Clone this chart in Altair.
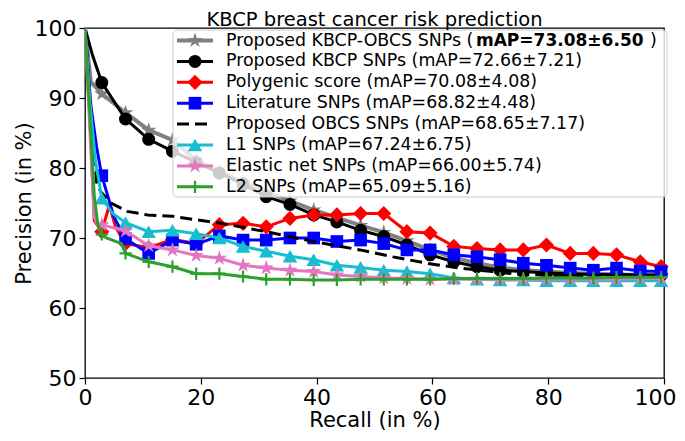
import altair as alt
import pandas as pd

# ---------------- data ----------------
recall_grid = [2.9, 7.0, 11.0, 15.1, 19.2, 23.2, 27.3, 31.3, 35.4, 39.5, 43.5, 47.6, 51.6,
               55.6, 59.6, 63.7, 67.7, 71.7, 75.7, 79.7, 83.8, 87.8, 91.8, 95.9, 99.5]

series_names = ["Proposed KBCP-OBCS SNPs", "Proposed KBCP SNPs", "Polygenic score",
                "Literature SNPs", "Proposed OBCS SNPs", "L1 SNPs", "Elastic net SNPs", "L2 SNPs"]
series_map = ["mAP=73.08±6.50", "mAP=72.66±7.21", "mAP=70.08±4.08", "mAP=68.82±4.48",
              "mAP=68.65±7.17", "mAP=67.24±6.75", "mAP=66.00±5.74", "mAP=65.09±5.16"]
colors = ["#808080", "#000000", "#ff0000", "#0000ff", "#000000", "#17becf", "#e377c2", "#2ca02c"]

prec_kbcp_obcs = [90.6, 87.9, 85.4, 84.0, 81.1, 79.5, 78.0, 76.6, 75.3, 74.0, 72.9, 71.8, 70.8,
                  69.6, 68.3, 67.2, 66.4, 65.8, 65.4, 65.2, 65.0, 64.9, 64.8, 64.7, 64.6]
prec_kbcp = [92.2, 87.0, 84.1, 82.4, 80.8, 79.3, 77.7, 75.9, 74.8, 73.3, 72.3, 71.1, 70.2,
             69.0, 67.6, 66.6, 65.9, 65.4, 65.2, 65.0, 64.9, 64.8, 64.8, 64.7, 64.7]
prec_polygenic = [70.9, 69.2, 68.6, 69.8, 69.2, 71.9, 72.1, 71.6, 72.8, 73.3, 73.3, 73.5, 73.5,
                  70.9, 70.7, 68.8, 68.5, 68.3, 68.3, 69.0, 67.8, 67.8, 67.6, 66.6, 65.9]
prec_literature = [78.9, 69.9, 67.8, 69.7, 69.1, 70.3, 69.7, 69.7, 70.0, 70.0, 69.5, 69.7, 69.2,
                   68.3, 68.3, 67.6, 67.3, 66.9, 66.4, 66.1, 65.7, 65.4, 65.7, 65.3, 65.2]
prec_l1 = [75.7, 72.2, 70.9, 71.1, 70.6, 70.0, 68.8, 68.1, 67.4, 66.9, 66.1, 65.8, 65.4,
           65.2, 64.9, 64.3, 64.1, 64.0, 64.0, 63.9, 63.9, 63.9, 63.9, 63.9, 63.9]
prec_elastic = [71.9, 71.0, 68.9, 68.3, 67.5, 67.1, 66.1, 65.7, 65.4, 65.2, 64.7, 64.5, 64.3,
                64.2, 64.1, 64.1, 64.1, 64.1, 64.1, 64.1, 64.1, 64.1, 64.1, 64.2, 64.2]
prec_l2 = [70.5, 67.8, 66.6, 65.9, 64.9, 64.9, 64.5, 64.1, 64.1, 64.0, 64.0, 64.1, 64.1,
           64.1, 64.1, 64.2, 64.2, 64.2, 64.2, 64.3, 64.3, 64.3, 64.4, 64.4, 64.4]

# extra curve points between markers (no marker drawn)
extra_recall = {
    0: [0, 1.0], 1: [0, 1.3], 2: [0, 0.9, 1.6, 4.2, 5.3], 3: [0, 1.0, 2.0, 5.0],
    5: [0, 0.9, 1.8, 4.8], 6: [0, 0.8, 1.6, 2.2], 7: [0, 0.8, 1.6, 2.2, 3.7, 6.3],
}
extra_prec = {
    0: [100, 92.3], 1: [100, 96.1], 2: [100, 86, 72.5, 74.7, 71.5], 3: [100, 89, 83, 73.0],
    5: [100, 89, 81, 73.5], 6: [100, 86, 73, 71.9], 7: [100, 88, 76, 72, 70.0, 69.2],
}

# OBCS dashed curve (no markers)
obcs_recall = [0, 1.2, 2.0, 2.7, 4.5, 7.3, 10.8, 15.1, 19.2, 23.5, 31.3, 39.4, 47.5, 53.2,
               59.0, 64.7, 70.4, 75.1, 80.0, 90.0, 100]
obcs_prec = [100, 86, 78, 76.6, 75.0, 73.8, 73.3, 73.1, 72.6, 72.1, 70.9, 69.5, 68.3, 67.3,
             66.4, 65.7, 65.2, 64.8, 64.7, 64.6, 64.5]

grid_prec = {0: prec_kbcp_obcs, 1: prec_kbcp, 2: prec_polygenic, 3: prec_literature,
             5: prec_l1, 6: prec_elastic, 7: prec_l2}

x_ticks = [0, 20, 40, 60, 80, 100]
y_ticks = [50, 60, 70, 80, 90, 100]

# ---------------- styles ----------------
STAR = ("M0,-1L0.2245,-0.309L0.951,-0.309L0.363,0.118L0.588,0.809L0,0.382"
        "L-0.588,0.809L-0.363,0.118L-0.951,-0.309L-0.2245,-0.309Z")
PLUS = "M-1,0L1,0M0,-1L0,1"
shapes = [STAR, "circle", "diamond", "square", None, "triangle-up", STAR, PLUS]
sizes = [260, 170, 230, 160, 0, 210, 260, 150]
filled = [True, True, True, True, True, True, True, False]
widths = [4, 3, 3, 3, 3, 3, 3, 3]

rows = []
for i, name in enumerate(series_names):
    if i == 4:
        for r, p in zip(obcs_recall, obcs_prec):
            rows.append({"series": name, "recall": r, "precision": p, "marker": False})
        continue
    for r, p in zip(extra_recall[i], extra_prec[i]):
        rows.append({"series": name, "recall": r, "precision": p, "marker": False})
    for r, p in zip(recall_grid, grid_prec[i]):
        rows.append({"series": name, "recall": r, "precision": p, "marker": True})
df = pd.DataFrame(rows)

legend_df = pd.DataFrame({"idx": list(range(8)), "name": series_names, "map": series_map})

FONT = "DejaVu Sans"
xenc = alt.X("recall:Q", scale=alt.Scale(domain=[0, 100], nice=False),
             axis=alt.Axis(values=x_ticks, title="Recall (in %)",
                           labelFlush=False, titleFontSize=21, titlePadding=1,
                           labelAlign={"condition": {"test": "datum.value >= 100", "value": "right"},
                                       "value": "center"},
                           labelOffset={"condition": {"test": "datum.value >= 100", "value": 12},
                                        "value": 0}))
yenc = alt.Y("precision:Q", scale=alt.Scale(domain=[50, 100], nice=False),
             axis=alt.Axis(values=y_ticks, title="Precision (in %)",
                           labelFlush=False, titleFontSize=21, titlePadding=0))

layers = []
for i, name in enumerate(series_names):
    base = alt.Chart(df).transform_filter(alt.datum.series == name)
    line_kw = dict(color=colors[i], strokeWidth=widths[i], clip=True)
    if i == 4:
        line_kw["strokeDash"] = [12, 6]
    layers.append(base.mark_line(**line_kw).encode(x=xenc, y=yenc, order="recall:Q"))
    if shapes[i] is not None:
        pkw = dict(shape=shapes[i], size=sizes[i], filled=filled[i], color=colors[i], opacity=1)
        if not filled[i]:
            pkw["strokeWidth"] = 2.2
        layers.append(base.transform_filter(alt.datum.marker == True)
                      .mark_point(**pkw).encode(x=xenc, y=yenc))

# ---------------- legend (drawn inside plot) ----------------
LFS = 17.4
leg0 = alt.Chart(legend_df).transform_filter(alt.datum.idx == 0)
layers.append(leg0.mark_rect(fill="white", fillOpacity=0.8, stroke="#cccccc", strokeWidth=1,
                             cornerRadius=4)
              .encode(x=alt.value(88), x2=alt.value(582), y=alt.value(2), y2=alt.value(169)))
for i, name in enumerate(series_names):
    yi = 12.5 + 20.9 * i
    leg = alt.Chart(legend_df).transform_filter(alt.datum.idx == i)
    rkw = dict(color=colors[i], strokeWidth=widths[i])
    if i == 4:
        rkw["strokeDash"] = [12, 6]
    layers.append(leg.mark_rule(**rkw).encode(x=alt.value(92), x2=alt.value(128), y=alt.value(yi)))
    if shapes[i] is not None:
        pkw = dict(shape=shapes[i], size=sizes[i], filled=filled[i], color=colors[i], opacity=1)
        if not filled[i]:
            pkw["strokeWidth"] = 2.2
        layers.append(leg.mark_point(**pkw).encode(x=alt.value(110), y=alt.value(yi)))
    if i == 0:
        layers.append(leg.mark_text(align="left", baseline="middle", fontSize=LFS, font=FONT,
                                    color="black")
                      .transform_calculate(t="datum.name + ' ('")
                      .encode(x=alt.value(141), y=alt.value(yi), text="t:N"))
        layers.append(leg.mark_text(align="left", baseline="middle", fontSize=17, font=FONT,
                                    fontWeight="bold", color="black")
                      .encode(x=alt.value(391), y=alt.value(yi), text="map:N"))
        layers.append(leg.mark_text(align="left", baseline="middle", fontSize=LFS, font=FONT,
                                    color="black")
                      .encode(x=alt.value(565), y=alt.value(yi), text=alt.value(")")))
    else:
        layers.append(leg.mark_text(align="left", baseline="middle", fontSize=LFS, font=FONT,
                                    color="black")
                      .transform_calculate(t="datum.name + ' (' + datum.map + ')'")
                      .encode(x=alt.value(141), y=alt.value(yi), text="t:N"))

chart = alt.layer(*layers).properties(
    width=579, height=350,
    title=alt.TitleParams("KBCP breast cancer risk prediction", fontSize=19.5, font=FONT,
                          fontWeight="normal", color="black", offset=0, frame="group", dy=13.2),
    autosize=alt.AutoSizeParams(type="none"),
    padding={"left": 77, "top": 20, "right": 13, "bottom": 55},
).configure_view(stroke="black", strokeWidth=1.3).configure_axis(
    grid=False, domain=False, tickColor="black", tickSize=6, tickWidth=1.2,
    labelFont=FONT, labelFontSize=22, labelColor="black", labelPadding=3,
    titleFont=FONT, titleFontWeight="normal", titleColor="black",
)

chart.save("out.html", embed_options={"renderer": "svg", "actions": False})
